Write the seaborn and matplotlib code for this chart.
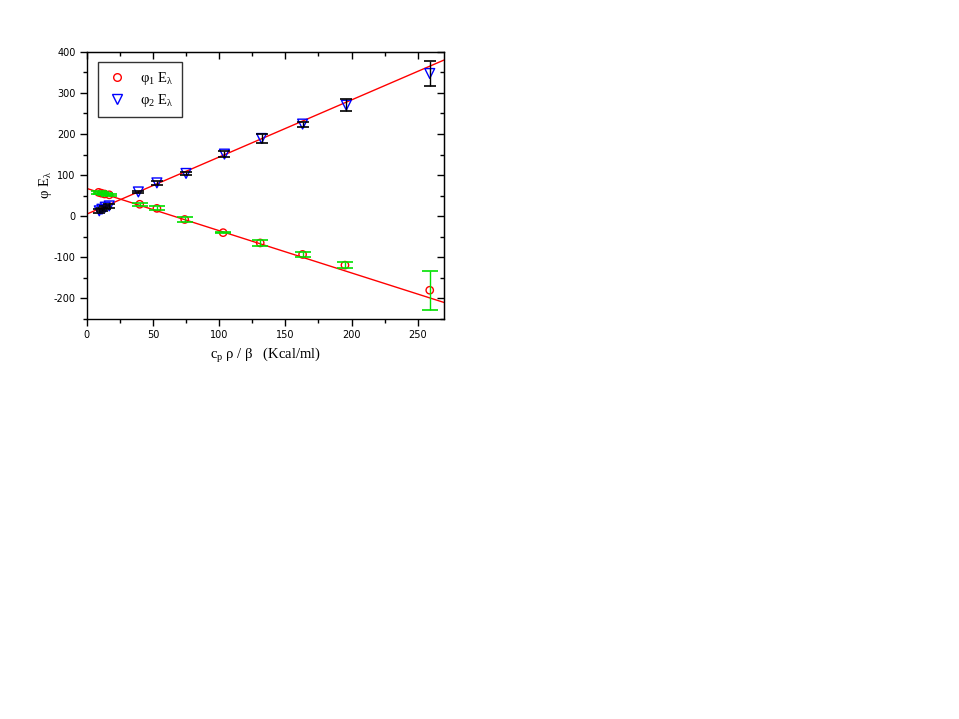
import numpy as np
import pandas as pd
import matplotlib
matplotlib.use("Agg")
import matplotlib.pyplot as plt
import seaborn as sns
from matplotlib.lines import Line2D

# data
x1 = [9, 11, 13.5, 17, 40, 53, 74, 103, 131, 163, 195, 259]
y1 = [58, 56, 54, 52, 29, 19, -8, -40, -65, -93, -119, -180]
e1 = [3, 3, 3, 3, 3, 5, 5, 2, 7, 5, 8, 47]

x2 = [9.5, 11.5, 14, 17, 39, 53, 75, 104, 132, 163, 196, 259]
y2 = [13, 17, 22, 25, 59, 81, 104, 151, 189, 224, 270, 347]
e2 = [4, 4, 4, 4, 3, 4, 4, 7, 10, 6, 15, 30]

# straight-line fits (intercept, slope)
fit1 = (67.6, -1.028)
fit2 = (5.0, 1.389)

xticks = [0, 50, 100, 150, 200, 250]
yticks = [-200, -100, 0, 100, 200, 300, 400]

sns.set_style("white")
plt.rcParams["font.family"] = ["DejaVu Sans"]
plt.rcParams["axes.unicode_minus"] = False
plt.rcParams["text.color"] = "black"
plt.rcParams["axes.labelcolor"] = "black"
plt.rcParams["xtick.color"] = "black"
plt.rcParams["ytick.color"] = "black"

fig = plt.figure(figsize=(9.59, 7.19), dpi=100)
ax = fig.add_axes([0.0904, 0.5563, 0.3729, 0.3718])

xf = np.array([0, 270])
ax.plot(xf, fit1[0] + fit1[1] * xf, color="red", lw=1, zorder=2)
ax.plot(xf, fit2[0] + fit2[1] * xf, color="red", lw=1, zorder=2)

df1 = pd.DataFrame({"x": x1, "y": y1})
df2 = pd.DataFrame({"x": x2, "y": y2})
sns.scatterplot(data=df1, x="x", y="y", ax=ax, marker="o", s=28,
                facecolor="none", edgecolor="red", linewidth=1, zorder=3)
sns.scatterplot(data=df2, x="x", y="y", ax=ax, marker="v", s=50,
                facecolor="none", edgecolor="blue", linewidth=1, zorder=3)

ax.errorbar(x1, y1, yerr=e1, fmt="none", ecolor="#00e000", elinewidth=1,
            capsize=6, capthick=1.2, zorder=4)
ax.errorbar(x2, y2, yerr=e2, fmt="none", ecolor="black", elinewidth=1,
            capsize=4.5, capthick=1.2, zorder=4)

ax.set_xlim(0, 270)
ax.set_ylim(-250, 400)
ax.set_xticks(xticks)
ax.set_xticks(np.arange(0, 271, 25), minor=True)
ax.set_yticks(yticks)
ax.set_yticks(np.arange(-250, 401, 50), minor=True)

for s in ax.spines.values():
    s.set_color("black")
    s.set_linewidth(1)

ax.tick_params(axis="both", which="major", direction="out", length=5,
               width=1, labelsize=7, color="black", labelcolor="black", pad=3)
ax.tick_params(axis="both", which="minor", direction="out", length=3,
               width=1, color="black")
ax.tick_params(which="both", top=False, right=False, bottom=True, left=True)

# inward ticks on top and right
sec_x = ax.secondary_xaxis("top")
sec_x.set_xticks(xticks)
sec_x.set_xticks(np.arange(0, 271, 25), minor=True)
sec_x.tick_params(which="both", top=True)
sec_x.tick_params(which="major", direction="in", length=5, width=1)
sec_x.tick_params(which="minor", direction="in", length=3, width=1)
sec_x.set_xticklabels([])
sec_y = ax.secondary_yaxis("right")
sec_y.set_yticks(yticks)
sec_y.set_yticks(np.arange(-250, 401, 50), minor=True)
sec_y.tick_params(which="both", right=True)
sec_y.tick_params(which="major", direction="in", length=5, width=1)
sec_y.tick_params(which="minor", direction="in", length=3, width=1)
sec_y.set_yticklabels([])

ax.set_xlabel("c$_\\mathregular{p}$ ρ / β   (Kcal/ml)", family="Liberation Serif",
              fontsize=10.5, labelpad=4, color="black")
ax.set_ylabel("φ E$_\\mathregular{λ}$", family="Liberation Serif",
              fontsize=10.5, labelpad=0, color="black")

handles = [
    Line2D([], [], ls="none", marker="o", mfc="none", mec="red", ms=5.5, mew=1),
    Line2D([], [], ls="none", marker="v", mfc="none", mec="blue", ms=7, mew=1),
]
leg = ax.legend(handles, ["φ$_\\mathregular{1}$ E$_\\mathregular{λ}$",
                          "φ$_\\mathregular{2}$ E$_\\mathregular{λ}$"],
                loc="upper left", bbox_to_anchor=(0.032, 0.96),
                borderaxespad=0,
                prop={"family": "Liberation Serif", "size": 10.5},
                frameon=True, fancybox=False, edgecolor="black",
                handletextpad=0.8, borderpad=0.55, labelspacing=0.3,
                handlelength=1.5)
leg.get_frame().set_linewidth(1)

fig.savefig("out.png", dpi=100)
